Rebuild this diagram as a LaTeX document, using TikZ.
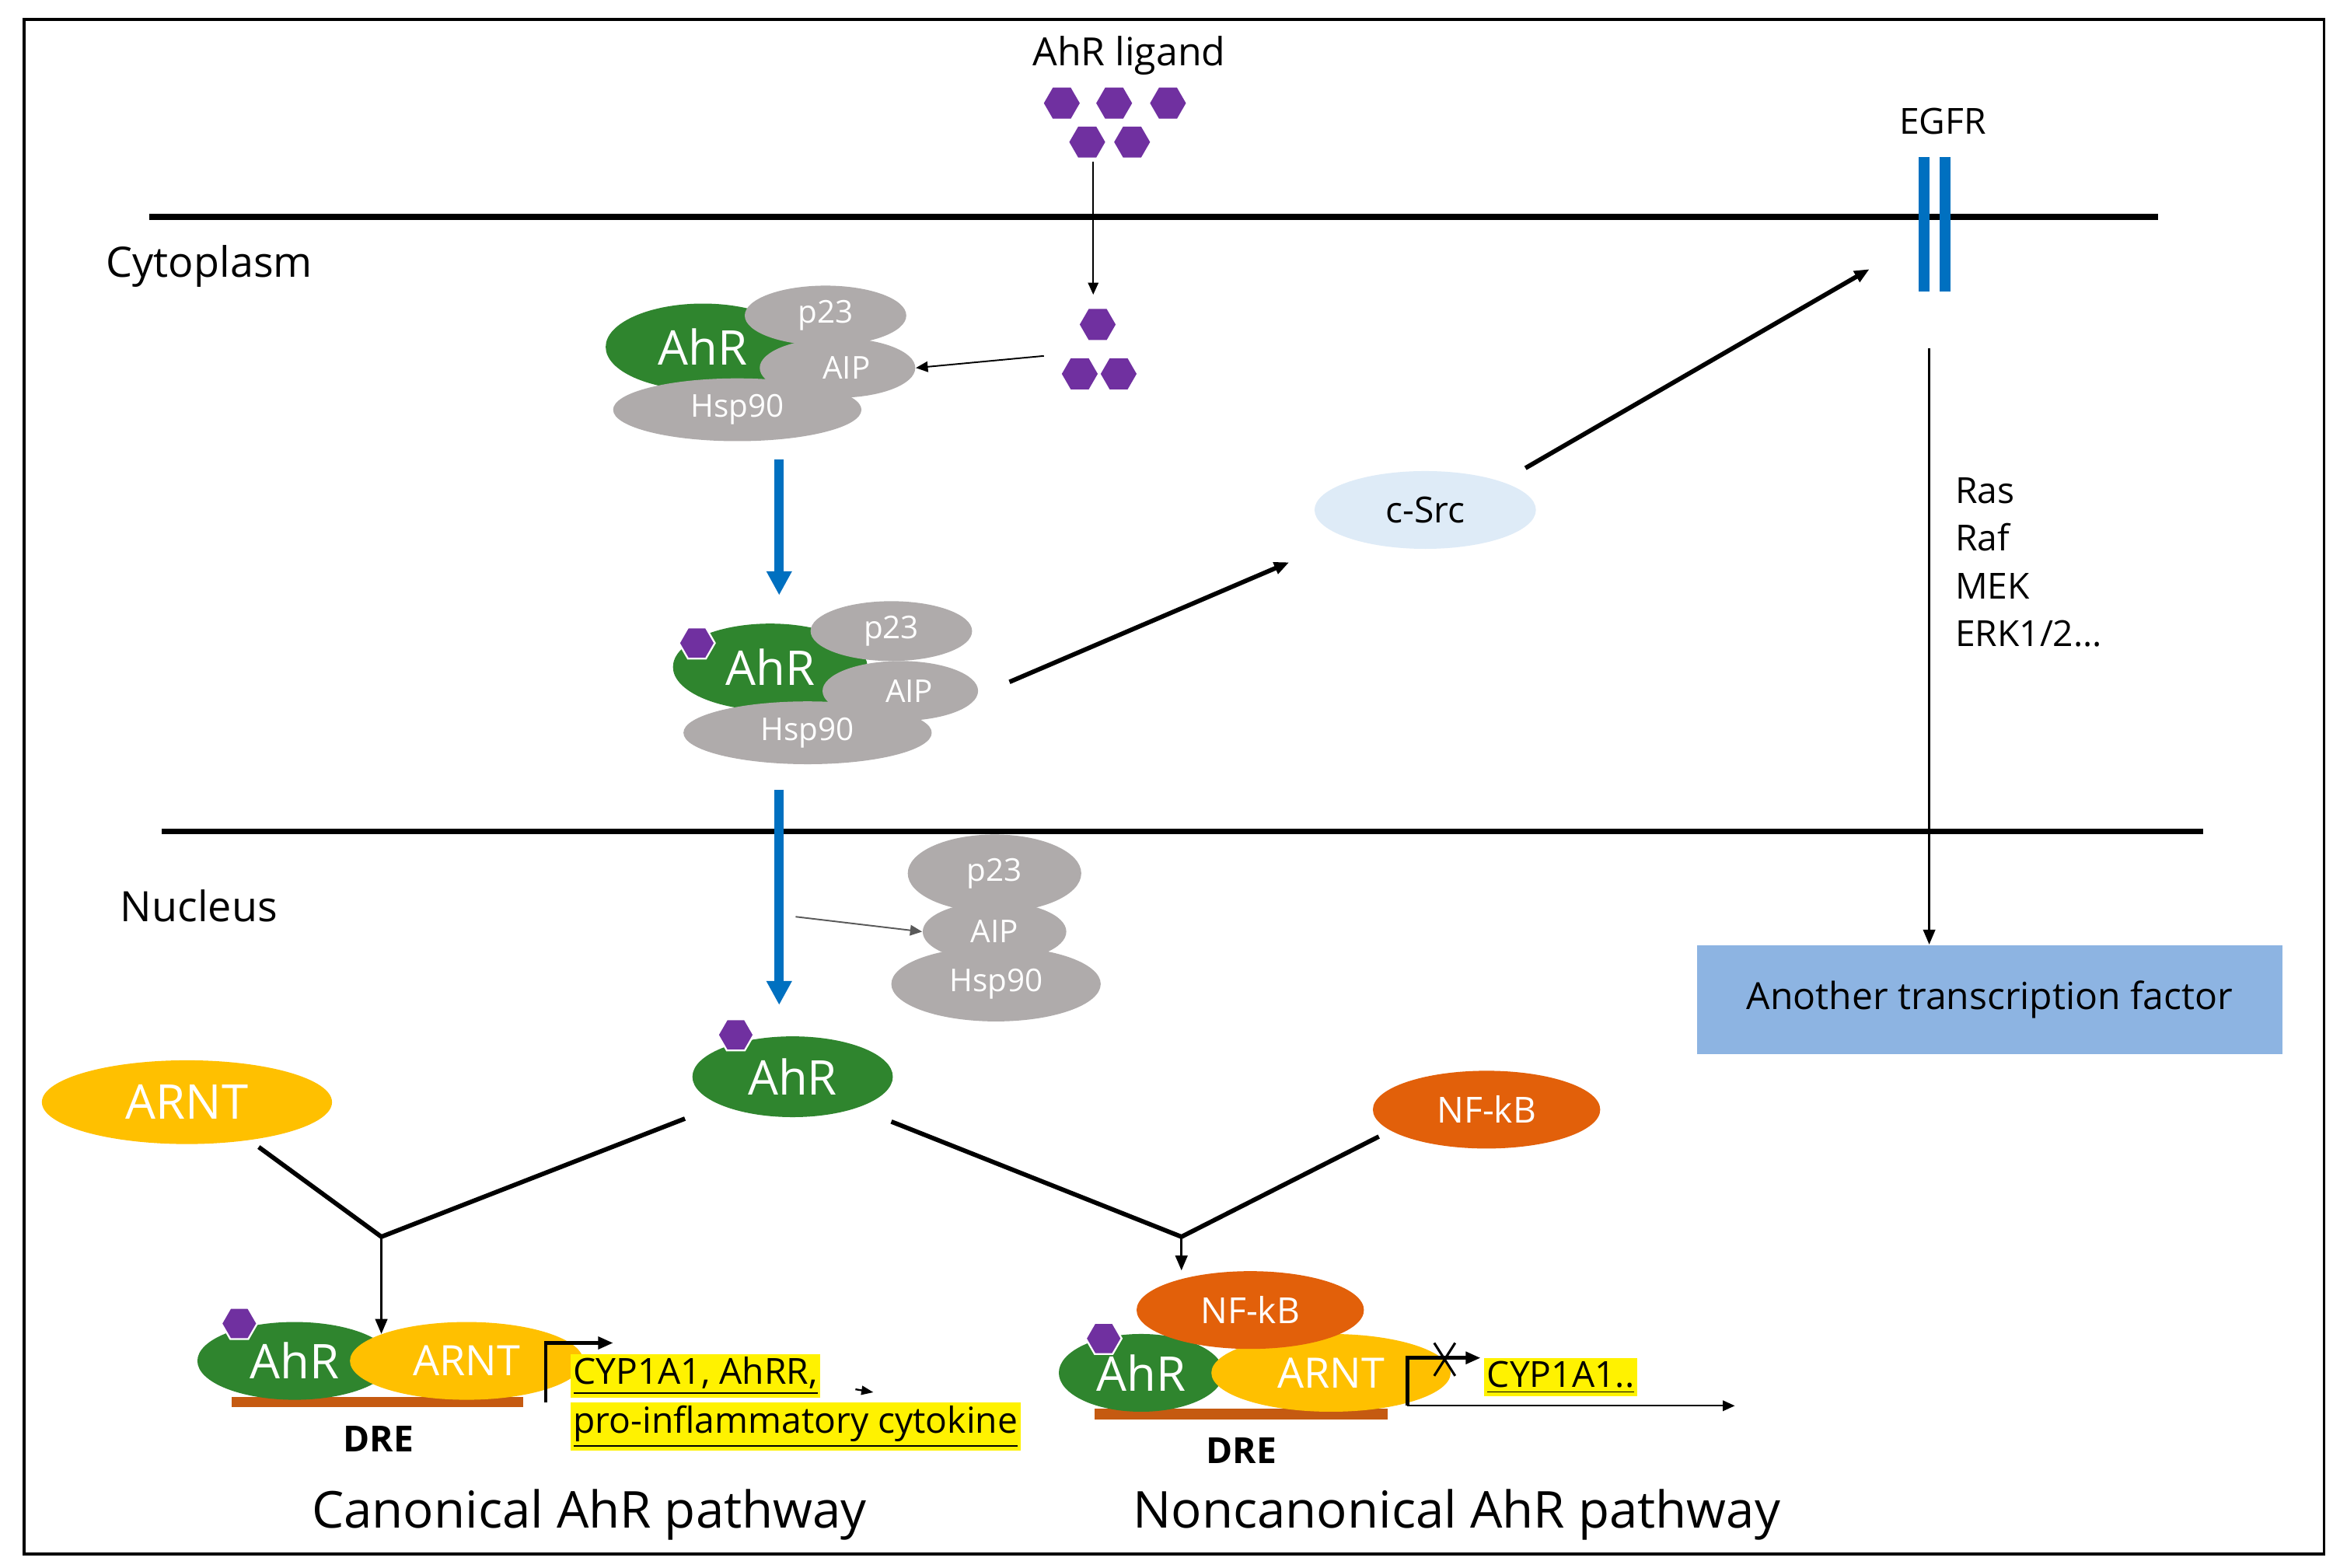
\documentclass[tikz,border=0pt]{standalone}
\usepackage{fontspec}
\setmainfont{Open Sans}
\usetikzlibrary{shapes.geometric,arrows.meta}
\definecolor{ahrg}{RGB}{47,133,46}
\definecolor{gry}{RGB}{175,171,171}
\definecolor{lig}{RGB}{112,48,160}
\definecolor{arnt}{RGB}{255,192,0}
\definecolor{nfkb}{RGB}{226,96,10}
\definecolor{dre}{RGB}{197,90,17}
\definecolor{blu}{RGB}{0,112,192}
\definecolor{src}{RGB}{222,235,247}
\definecolor{tfb}{RGB}{141,180,226}
\begin{document}
\begin{tikzpicture}[x=0.5pt,y=-0.5pt,
  el/.style={ellipse,draw=none,inner sep=0pt,text=white},
  ahr/.style={el,fill=ahrg,font=\fontsize{16}{16}\selectfont},
  gp/.style={el,fill=gry,font=\fontsize{10.5}{11}\selectfont},
  hex/.style={regular polygon,regular polygon sides=6,fill=lig,draw=none,minimum size=12pt,inner sep=0pt},
  hexw/.style={hex,draw=white,line width=0.6pt},
  memb/.style={line width=2pt},
  bar/.style={fill=blu,draw=none},
  ar/.style={-{Triangle[length=5pt,width=4pt]},line width=0.8pt},
  tar/.style={-{Triangle[length=4pt,width=3.5pt]},line width=0.5pt},
  bar2/.style={-{Triangle[length=8pt,width=8pt]},line width=3pt,draw=blu,blu},
  lbl/.style={font=\fontsize{14}{14}\selectfont,inner sep=0pt},
  hl/.style={fill=yellow,inner sep=1pt,font=\fontsize{12}{12}\selectfont,anchor=west}
]
\useasboundingbox (0,0) rectangle (1560,1048);
\fill[white] (0,0) rectangle (1560,1048);
\node[draw,line width=1pt,minimum width=769pt,minimum height=513pt,anchor=north west,inner sep=0pt] (frame) at (15,12) {};
% membranes
\coordinate (m1a) at (100,145); \coordinate (m1b) at (1443,145);
\coordinate (m2a) at (108,556); \coordinate (m2b) at (1473,556);
\draw[memb] (m1a) -- (m1b);
\draw[memb] (m2a) -- (m2b);
\node[lbl] (cyto) at (140,178) {Cytoplasm};
\node[lbl] (nuc) at (133,606) {Nucleus};
% ligand
\node[lbl,font=\fontsize{13}{13}\selectfont] (lig) at (755,37) {AhR ligand};
\node[hex] (h1) at (710,69) {}; \node[hex] (h2) at (745,69) {}; \node[hex] (h3) at (781,69) {};
\node[hex] (h4) at (727,95) {}; \node[hex] (h5) at (757,95) {};
\coordinate (la) at (731,108);
\node[hex] (h6) at (734,217) {}; \node[hex] (h7) at (722,250) {}; \node[hex] (h8) at (748,250) {};
\draw[tar] (la) -- (731,197);
% complex 1
\node[ahr,minimum width=65pt,minimum height=29pt] (ahr1) at (470,232) {AhR\hspace{12pt}};
\node[gp,minimum width=54pt,minimum height=20pt] (p231) at (552,211) {p23};
\node[gp,minimum width=52pt,minimum height=20pt] (aip1) at (560,246) {\hspace{6pt}AIP};
\node[gp,minimum width=83pt,minimum height=21pt] (hsp1) at (493,274) {Hsp90};
\coordinate (la2) at (698,238);
\draw[tar] (la2) -- (aip1.east);
\draw[bar2] (521,307) -- (521,398);
% complex 2
\node[ahr,minimum width=65pt,minimum height=29pt] (ahr2) at (515,446) {AhR\hspace{12pt}};
\node[gp,minimum width=54pt,minimum height=20pt] (p232) at (596,422) {p23};
\node[gp,minimum width=52pt,minimum height=20pt] (aip2) at (602,462) {\hspace{6pt}AIP};
\node[gp,minimum width=83pt,minimum height=21pt] (hsp2) at (540,490) {Hsp90};
\node[hexw] (h9) at (466,430) {};
% c-Src, EGFR
\node[el,fill=src,text=black,minimum width=74pt,minimum height=26pt,font=\fontsize{12}{12}\selectfont] (src) at (953,341) {c-Src};
\coordinate (s1) at (675,456);
\draw[ar,line width=1.5pt] (s1) -- (862,376);
\coordinate (s2) at (1020,313);
\draw[ar,line width=1.5pt] (s2) -- (1250,180);
\node[lbl,font=\fontsize{12}{12}\selectfont] (egfr) at (1299,81) {EGFR};
\fill[bar] (1283,105) rectangle (1290,195);
\fill[bar] (1297,105) rectangle (1304,195);
\node[fill=tfb,minimum width=195.5pt,minimum height=36.5pt,inner sep=0pt,font=\fontsize{12.5}{13}\selectfont] (tf) at (1330.5,668.5) {Another transcription factor};
\coordinate (e1) at (1290,233);
\draw[ar] (e1) -- (tf.north -| e1);
\node[anchor=west,align=left,inner sep=0pt,font=\fontsize{12}{16}\selectfont] (ras) at (1307,376) {Ras\\Raf\\MEK\\ERK1/2...};
% nucleus entry
\draw[bar2] (521,528) -- (521,672);
\node[gp,minimum width=58pt,minimum height=26pt] (p233) at (665,584) {p23};
\node[gp,minimum width=48pt,minimum height=20pt] (aip3) at (665,623) {AIP};
\node[gp,minimum width=70pt,minimum height=25pt] (hsp3) at (666,658) {Hsp90};
\coordinate (g1) at (532,613);
\draw[tar,draw=gray!70!black,gray!70!black] (g1) -- (aip3.west);
\node[ahr,minimum width=67pt,minimum height=27pt] (ahr3) at (530,720) {AhR};
\node[hexw] (h10) at (492,692) {};
\node[el,fill=arnt,minimum width=97pt,minimum height=28pt,font=\fontsize{16}{16}\selectfont] (arnt1) at (125,737) {ARNT};
\node[el,fill=nfkb,minimum width=76pt,minimum height=26pt,font=\fontsize{12}{12}\selectfont] (nf1) at (994,742) {NF-kB};
% joins
\coordinate (j1) at (255,827); \coordinate (j2) at (790,827);
\coordinate (a1) at (173,767); \coordinate (a2) at (458,748);
\coordinate (a3) at (596,750); \coordinate (a4) at (922,760);
\draw[line width=1.5pt] (a1) -- (j1) -- (a2);
\draw[line width=1.5pt] (a3) -- (j2) -- (a4);
% canonical
\fill[dre] (155,934) rectangle (350,941);
\node[ahr,minimum width=65pt,minimum height=26pt] (ahr4) at (197,910) {AhR\hspace{16pt}};
\node[el,fill=arnt,minimum width=78pt,minimum height=26pt,font=\fontsize{14}{14}\selectfont] (arnt2) at (312,910) {ARNT};
\node[hexw] (h11) at (160,885) {};
\draw[ar] (j1) -- (255,892);
\node[font=\bfseries\fontsize{12}{12}\selectfont] (dre1) at (253,962) {DRE};
\coordinate (pr1) at (365,938);
\draw[-{Triangle[length=5pt,width=4pt]},line width=1.2pt] (pr1) -- (365,898) -- (410,898);
\node[hl] (g1t) at (381,920) {\underline{CYP1A1, AhRR,}};
\coordinate (g1e) at (572,929);
\draw[-{Triangle[length=4pt,width=3pt]},line width=0.6pt] (g1e) -- (584,931);
\node[hl] (g2t) at (381,954) {\underline{pro-inflammatory cytokine}};
% noncanonical
\fill[dre] (732,942) rectangle (928,949);
\node[ahr,minimum width=55pt,minimum height=26pt] (ahr5) at (763,918) {AhR\hspace{6pt}};
\node[el,fill=arnt,minimum width=80pt,minimum height=26pt,font=\fontsize{14}{14}\selectfont] (arnt3) at (890,918) {ARNT};
\node[el,fill=nfkb,minimum width=76pt,minimum height=26pt,font=\fontsize{12}{12}\selectfont] (nf2) at (836,876) {NF-kB};
\node[hexw] (h12) at (738,895) {};
\draw[ar] (j2) -- (nf2.north -| j2);
\node[font=\bfseries\fontsize{12}{12}\selectfont] (dre2) at (830,970) {DRE};
\coordinate (pr2) at (941,940);
\draw[-{Triangle[length=5pt,width=4pt]},line width=1.2pt] (pr2) -- (941,908) -- (990,908);
\draw[line width=0.8pt] (959,898) -- (973,920) (973,898) -- (959,920);
\node[hl] (g3t) at (992,921) {\underline{CYP1A1..}};
\coordinate (pe) at (1160,940);
\draw[tar] (pr2) -- (pe);
\node[font=\fontsize{17}{17}\selectfont] (t1) at (394,1013) {Canonical AhR pathway};
\node[font=\fontsize{17}{17}\selectfont] (t2) at (974,1013) {Noncanonical AhR pathway};
\end{tikzpicture}
\end{document}
